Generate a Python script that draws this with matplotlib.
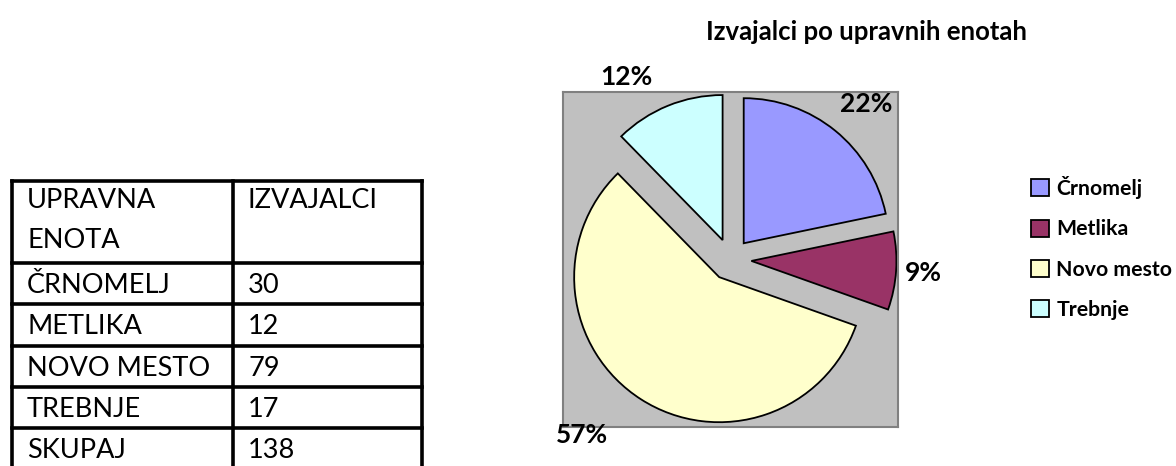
import matplotlib
matplotlib.use("Agg")
import matplotlib.pyplot as plt
import numpy as np

# ---- data ----
categories = ["Črnomelj", "Metlika", "Novo mesto", "Trebnje"]
values = [30, 12, 79, 17]
table_header = ["UPRAVNA\nENOTA", "IZVAJALCI"]
table_rows = ["ČRNOMELJ", "METLIKA", "NOVO MESTO", "TREBNJE", "SKUPAJ"]
table_values = [30, 12, 79, 17, 138]
title = "Izvajalci po upravnih enotah"

colors = ["#9999FF", "#993366", "#FFFFCC", "#CCFFFF"]
FONT = ["Lato", "DejaVu Sans"]
plt.rcParams["font.family"] = FONT

W, H = 1176, 466
fig = plt.figure(figsize=(W / 100, H / 100), dpi=100)

# ---- table (drawn in pixel coordinates on an overlay axes) ----
tax = fig.add_axes([0, 0, 1, 1])
tax.set_xlim(0, W)
tax.set_ylim(H, 0)
tax.axis("off")
x0, xm, x1 = 12, 233, 422
y_top = 181
header_h = 82
row_h = 41.3
lw = 2.6
row_lines = [y_top] + [y_top + header_h + i * row_h for i in range(len(table_rows))]
for y in row_lines:
    tax.plot([x0, x1], [y, y], color="black", lw=lw, solid_capstyle="projecting")
for x in (x0, xm, x1):
    tax.plot([x, x], [y_top, H + 5], color="black", lw=lw, solid_capstyle="projecting")
tfs = 19.5
hl = table_header[0].split("\n")
tax.text(27, y_top + 20, hl[0], fontsize=tfs, va="center", ha="left")
tax.text(27, y_top + 59, hl[1], fontsize=tfs, va="center", ha="left")
tax.text(248, y_top + 20, table_header[1], fontsize=tfs, va="center", ha="left")
for i, (name, v) in enumerate(zip(table_rows, table_values)):
    yc = y_top + header_h + i * row_h + row_h / 2 + 2
    tax.text(27, yc, name, fontsize=tfs, va="center", ha="left")
    tax.text(248, yc, str(v), fontsize=tfs, va="center", ha="left")

# ---- pie ----
ax = fig.add_axes([563 / W, (H - 427) / H, 335 / W, 335 / H])
ax.set_facecolor("#C0C0C0")
for s in ax.spines.values():
    s.set_color("#808080")
    s.set_linewidth(1.5)
wedges, _ = ax.pie(values, colors=colors, startangle=90, counterclock=False,
                   radius=0.866, explode=[0.125] * 4,
                   wedgeprops=dict(edgecolor="black", linewidth=1.3))
ax.set_xlim(-1, 1)
ax.set_ylim(-1, 1)
ax.set_aspect("equal")
ax.set_xticks([])
ax.set_yticks([])
ax.set_frame_on(True)

total = sum(values)
label_dist = [1.236, 1.157, 1.373, 1.253]
label_dang = [-2, 0, -7.6, 7.6]
for w, v, d, da in zip(wedges, values, label_dist, label_dang):
    ang = np.deg2rad((w.theta1 + w.theta2) / 2 + da)
    ax.text(d * np.cos(ang), d * np.sin(ang), f"{100 * v / total:.0f}%",
            fontsize=19, fontweight="bold", ha="center", va="center", clip_on=False)

fig.text(866 / W, 1 - 32 / H, title, fontsize=18.5, fontweight="bold",
         ha="center", va="center")

fig.legend(wedges, categories, loc="center left", bbox_to_anchor=(1031 / W, 1 - 248 / H),
           frameon=False, prop=dict(weight="bold", size=15.3, family=FONT),
           handlelength=0.85, handleheight=0.85, handletextpad=0.35, labelspacing=0.95,
           borderpad=0, borderaxespad=0)

fig.savefig("out.png", dpi=100)
